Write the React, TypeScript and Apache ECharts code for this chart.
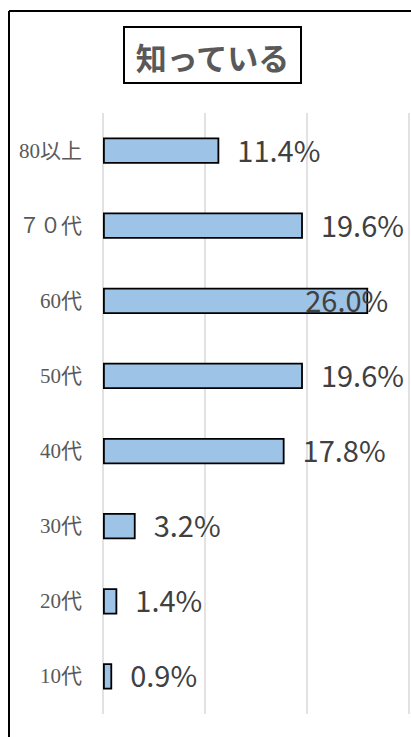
import React, { useEffect, useRef } from "react";
import * as echarts from "echarts";

const titleText = "知っている";
const categories = ["80以上", "７０代", "60代", "50代", "40代", "30代", "20代", "10代"];
const values = [11.4, 19.6, 26.0, 19.6, 17.8, 3.2, 1.4, 0.9];
const axisMin = 0;
const axisMax = 30;
const axisInterval = 10;

export default function App() {
  const ref = useRef<HTMLDivElement>(null);
  useEffect(() => {
    if (!ref.current) return;
    const chart = echarts.init(ref.current, null, { renderer: "svg" });
    const shiftedIndex = 2; // label of 60代 overlaps its bar in the reference
    chart.setOption({
      animation: false,
      backgroundColor: "#ffffff",
      grid: { left: 103, right: 2, top: 113, bottom: 23, containLabel: false },
      xAxis: {
        type: "value",
        min: axisMin,
        max: axisMax,
        interval: axisInterval,
        axisLabel: { show: false },
        axisLine: { show: false },
        axisTick: { show: false },
        splitLine: { show: true, lineStyle: { color: "#d9d9d9", width: 1.5 } },
      },
      yAxis: {
        type: "category",
        data: categories,
        inverse: true,
        axisLine: { show: false },
        axisTick: { show: false },
        axisLabel: {
          margin: 21,
          color: "#595959",
          fontSize: 21,
          fontFamily: "'Liberation Serif', 'Noto Sans CJK JP', serif",
        },
      },
      series: [
        {
          type: "bar",
          barWidth: "35%",
          data: values.map((v, i) =>
            i === shiftedIndex ? { value: v, label: { offset: [-81, -2] } } : v
          ),
          itemStyle: { color: "#9DC3E6", borderColor: "#000000", borderWidth: 1.8 },
          label: {
            show: true,
            position: "right",
            distance: 18,
            offset: [0, -2],
            color: "#404040",
            fontSize: 29,
            fontFamily: "'Noto Sans CJK JP', sans-serif",
            formatter: (p: any) => Number(p.value).toFixed(1) + "%",
          },
        },
      ],
      graphic: [
        {
          type: "line",
          shape: { x1: 9, y1: 11, x2: 420, y2: 11 },
          style: { stroke: "#000", lineWidth: 2 },
        },
        {
          type: "line",
          shape: { x1: 9, y1: 11, x2: 9, y2: 745 },
          style: { stroke: "#000", lineWidth: 2 },
        },
        {
          type: "rect",
          shape: { x: 124, y: 27, width: 177, height: 56 },
          style: { fill: "#fff", stroke: "#000", lineWidth: 2 },
        },
        {
          type: "text",
          x: 212.5,
          y: 56,
          style: {
            text: titleText,
            fill: "#595959",
            font: "bold 31px 'Noto Sans CJK JP', sans-serif",
            align: "center",
            verticalAlign: "middle",
          },
        },
      ],
    });
    return () => chart.dispose();
  }, []);
  return (
    <div
      ref={ref}
      style={{ position: "fixed", left: 0, top: 0, width: 411, height: 737 }}
    />
  );
}
